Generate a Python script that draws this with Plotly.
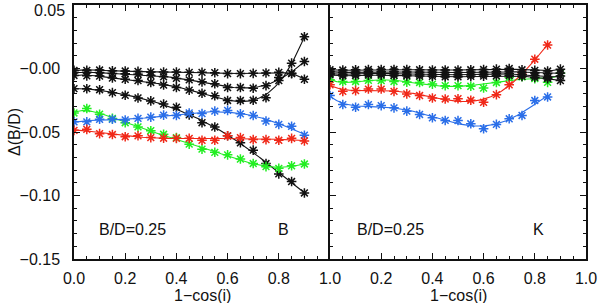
import numpy as np
import plotly.graph_objects as go

# ---------------- data ----------------
x_full = [0.0, 0.05, 0.1, 0.15, 0.2, 0.25, 0.3, 0.35, 0.4, 0.45,
          0.5, 0.55, 0.6, 0.65, 0.7, 0.75, 0.8, 0.85, 0.9]
x_short = [0.0, 0.05, 0.1, 0.15, 0.2, 0.25, 0.3, 0.35, 0.4, 0.45,
           0.5, 0.55, 0.6, 0.65, 0.7, 0.75, 0.8, 0.85]

# Left panel (B band)
b_black_a = [-0.0015, -0.0015, -0.0012, -0.0018, -0.0020, -0.0023, -0.0027, -0.0028, -0.0028, -0.0030,
             -0.0030, -0.0033, -0.0040, -0.0040, -0.0038, -0.0035, -0.0030, -0.0040, -0.0085]
b_black_b = [-0.0032, -0.0032, -0.0032, -0.0040, -0.0042, -0.0045, -0.0055, -0.0065, -0.0078, -0.0090,
             -0.0105, -0.0120, -0.0150, -0.0150, -0.0155, -0.0135, -0.0070, -0.0037, 0.0055]
b_black_c = [-0.0055, -0.0058, -0.0060, -0.0075, -0.0085, -0.0095, -0.0110, -0.0130, -0.0150, -0.0170,
             -0.0195, -0.0215, -0.0252, -0.0252, -0.0250, -0.0230, -0.0095, 0.0042, 0.0250]
b_black_d = [-0.0159, -0.0159, -0.0167, -0.0190, -0.0211, -0.0232, -0.0255, -0.0280, -0.0305, -0.0365,
             -0.0427, -0.0461, -0.0530, -0.0585, -0.0643, -0.0748, -0.0830, -0.0890, -0.0980]
b_green = [-0.0350, -0.0315, -0.0360, -0.0393, -0.0427, -0.0460, -0.0490, -0.0518, -0.0544, -0.0596,
           -0.0635, -0.0660, -0.0680, -0.0713, -0.0748, -0.0773, -0.0786, -0.0766, -0.0752]
b_blue = [-0.0420, -0.0420, -0.0400, -0.0400, -0.0405, -0.0393, -0.0383, -0.0367, -0.0370, -0.0350,
          -0.0355, -0.0336, -0.0330, -0.0357, -0.0370, -0.0414, -0.0440, -0.0455, -0.0525]
b_red = [-0.0487, -0.0479, -0.0513, -0.0520, -0.0537, -0.0530, -0.0544, -0.0549, -0.0550, -0.0550,
         -0.0565, -0.0565, -0.0530, -0.0544, -0.0560, -0.0560, -0.0565, -0.0550, -0.0570]

# Right panel (K band)
k_black_a = [-0.0010, -0.0012, -0.0010, -0.0008, -0.0008, -0.0008, -0.0008, -0.0010, -0.0012, -0.0012,
             -0.0012, -0.0010, -0.0008, -0.0005, 0.0000, -0.0010, -0.0015, -0.0020, -0.0005]
k_black_b = [-0.0025, -0.0030, -0.0028, -0.0025, -0.0025, -0.0025, -0.0028, -0.0030, -0.0030, -0.0032,
             -0.0032, -0.0030, -0.0028, -0.0025, -0.0020, -0.0030, -0.0035, -0.0040, -0.0035]
k_black_c = [-0.0040, -0.0045, -0.0042, -0.0040, -0.0040, -0.0042, -0.0045, -0.0045, -0.0048, -0.0050,
             -0.0050, -0.0048, -0.0045, -0.0040, -0.0040, -0.0048, -0.0055, -0.0070, -0.0060]
k_black_d = [-0.0050, -0.0058, -0.0055, -0.0052, -0.0052, -0.0055, -0.0058, -0.0060, -0.0062, -0.0065,
             -0.0065, -0.0062, -0.0060, -0.0058, -0.0055, -0.0062, -0.0070, -0.0080, -0.0095]
k_green = [-0.0088, -0.0102, -0.0102, -0.0094, -0.0096, -0.0102, -0.0107, -0.0110, -0.0123, -0.0135,
           -0.0135, -0.0140, -0.0154, -0.0110, -0.0070, -0.0065, -0.0080, -0.0109, -0.0037]
k_red = [-0.0128, -0.0180, -0.0174, -0.0162, -0.0162, -0.0180, -0.0200, -0.0213, -0.0232, -0.0240,
         -0.0238, -0.0250, -0.0266, -0.0206, -0.0128, -0.0045, 0.0073, 0.0185]
k_blue = [-0.0213, -0.0284, -0.0305, -0.0284, -0.0292, -0.0310, -0.0336, -0.0362, -0.0388, -0.0409,
          -0.0410, -0.0435, -0.0474, -0.0440, -0.0396, -0.0370, -0.0252, -0.0224]

x_tick_vals = [0.0, 0.2, 0.4, 0.6, 0.8, 1.0]
x_tick_text = ["0.0", "0.2", "0.4", "0.6", "0.8", "1.0"]
y_tick_vals = [0.05, 0.0, -0.05, -0.10, -0.15]
y_tick_text = ["", "\u22120.00", "\u22120.05", "\u22120.10", "\u22120.15"]
y_top_label = "0.05"

BLACK = "#111111"
GREEN = "#22ee22"
BLUE = "#2a6ee8"
RED = "#f02818"

FONT = "Liberation Sans, Arial, Helvetica, sans-serif"
FS = 16

fig = go.Figure()


def add_series(x, y, color, xa, ya):
    coef = np.polyfit(x, y, 6)
    xf = np.linspace(min(x), max(x), 200)
    fig.add_trace(go.Scatter(x=xf, y=np.polyval(coef, xf), mode="lines",
                             line=dict(color=color, width=1.1),
                             xaxis=xa, yaxis=ya, hoverinfo="skip", showlegend=False))
    fig.add_trace(go.Scatter(x=x, y=y, mode="markers",
                             marker=dict(symbol="asterisk-open", size=8, color=color,
                                         line=dict(color=color, width=1.5)),
                             xaxis=xa, yaxis=ya, showlegend=False))


for s in [b_black_a, b_black_b, b_black_c, b_black_d]:
    add_series(x_full, s, BLACK, "x", "y")
add_series(x_full, b_green, GREEN, "x", "y")
add_series(x_full, b_blue, BLUE, "x", "y")
add_series(x_full, b_red, RED, "x", "y")

add_series(x_full, k_green, GREEN, "x2", "y2")
add_series(x_short, k_red, RED, "x2", "y2")
add_series(x_short, k_blue, BLUE, "x2", "y2")
for s in [k_black_a, k_black_b, k_black_c, k_black_d]:
    add_series(x_full, s, BLACK, "x2", "y2")

common_x = dict(range=[0, 1], ticks="inside", ticklen=6, tickwidth=1, tickcolor=BLACK,
                showline=True, linecolor=BLACK, linewidth=1.5, mirror="ticks",
                showgrid=False, zeroline=False,
                minor=dict(tick0=0, dtick=0.05, ticks="inside", ticklen=3,
                           tickcolor=BLACK, tickwidth=1, showgrid=False),
                tickfont=dict(family=FONT, size=FS, color=BLACK),
                ticklabelstandoff=4)

Y_RANGE = [-0.15, 0.05]

fig.update_layout(
    width=600, height=303,
    margin=dict(l=74, r=11, t=3, b=44),
    paper_bgcolor="white", plot_bgcolor="white",
    showlegend=False,
    xaxis=dict(domain=[0, 0.5], anchor="y", tickmode="array",
               tickvals=x_tick_vals, ticktext=x_tick_text, **common_x),
    xaxis2=dict(domain=[0.5, 1], anchor="y2", tickmode="array",
                tickvals=x_tick_vals[1:], ticktext=x_tick_text[1:], **common_x),
    yaxis=dict(range=Y_RANGE, anchor="x", tickmode="array",
               tickvals=y_tick_vals, ticktext=y_tick_text,
               ticks="inside", ticklen=6, tickwidth=1, tickcolor=BLACK,
               showline=True, linecolor=BLACK, linewidth=1.5, mirror=False,
               showgrid=False, zeroline=False,
               minor=dict(tick0=0, dtick=0.01, ticks="inside", ticklen=3,
                          tickcolor=BLACK, tickwidth=1, showgrid=False),
               tickfont=dict(family=FONT, size=FS, color=BLACK),
               ticklabelstandoff=9),
    yaxis2=dict(range=Y_RANGE, anchor="x2", matches="y", tickmode="array",
                tickvals=y_tick_vals, showticklabels=False,
                ticks="inside", ticklen=6, tickwidth=1, tickcolor=BLACK,
                showline=True, linecolor=BLACK, linewidth=1.5, mirror="ticks",
                showgrid=False, zeroline=False,
                minor=dict(tick0=0, dtick=0.01, ticks="inside", ticklen=3,
                           tickcolor=BLACK, tickwidth=1, showgrid=False)),
)

ann_font = dict(family=FONT, size=FS, color=BLACK)
annotations = [
    dict(x=0.23, y=-0.127, xref="x", yref="y", text="B/D=0.25", showarrow=False, font=ann_font),
    dict(x=0.82, y=-0.127, xref="x", yref="y", text="B", showarrow=False, font=ann_font),
    dict(x=0.238, y=-0.127, xref="x2", yref="y2", text="B/D=0.25", showarrow=False, font=ann_font),
    dict(x=0.816, y=-0.127, xref="x2", yref="y2", text="K", showarrow=False, font=ann_font),
    dict(x=0.5, y=0, xref="x domain", yref="paper", yshift=-36, text="1\u2212cos(i)",
         showarrow=False, font=ann_font, xanchor="center", yanchor="middle", borderpad=0),
    dict(x=0.5, y=0, xref="x2 domain", yref="paper", yshift=-36, text="1\u2212cos(i)",
         showarrow=False, font=ann_font, xanchor="center", yanchor="middle", borderpad=0),
    dict(x=0, y=0.5, xref="paper", yref="paper", xshift=-60, text="\u0394(B/D)",
         showarrow=False, font=ann_font, textangle=-90, xanchor="center", yanchor="middle"),
    # top y tick label, nudged down so it is not cut off by the page edge
    dict(x=0, y=y_tick_vals[0], xref="paper", yref="y", xshift=-9, yshift=-5,
         text=y_top_label, showarrow=False, font=ann_font, xanchor="right", yanchor="middle",
         borderpad=0, borderwidth=0),
]
fig.update_layout(annotations=annotations)

fig.write_html("out.html",
               config={"displayModeBar": False},
               post_script="document.body.style.margin='0';document.body.style.padding='0';")
